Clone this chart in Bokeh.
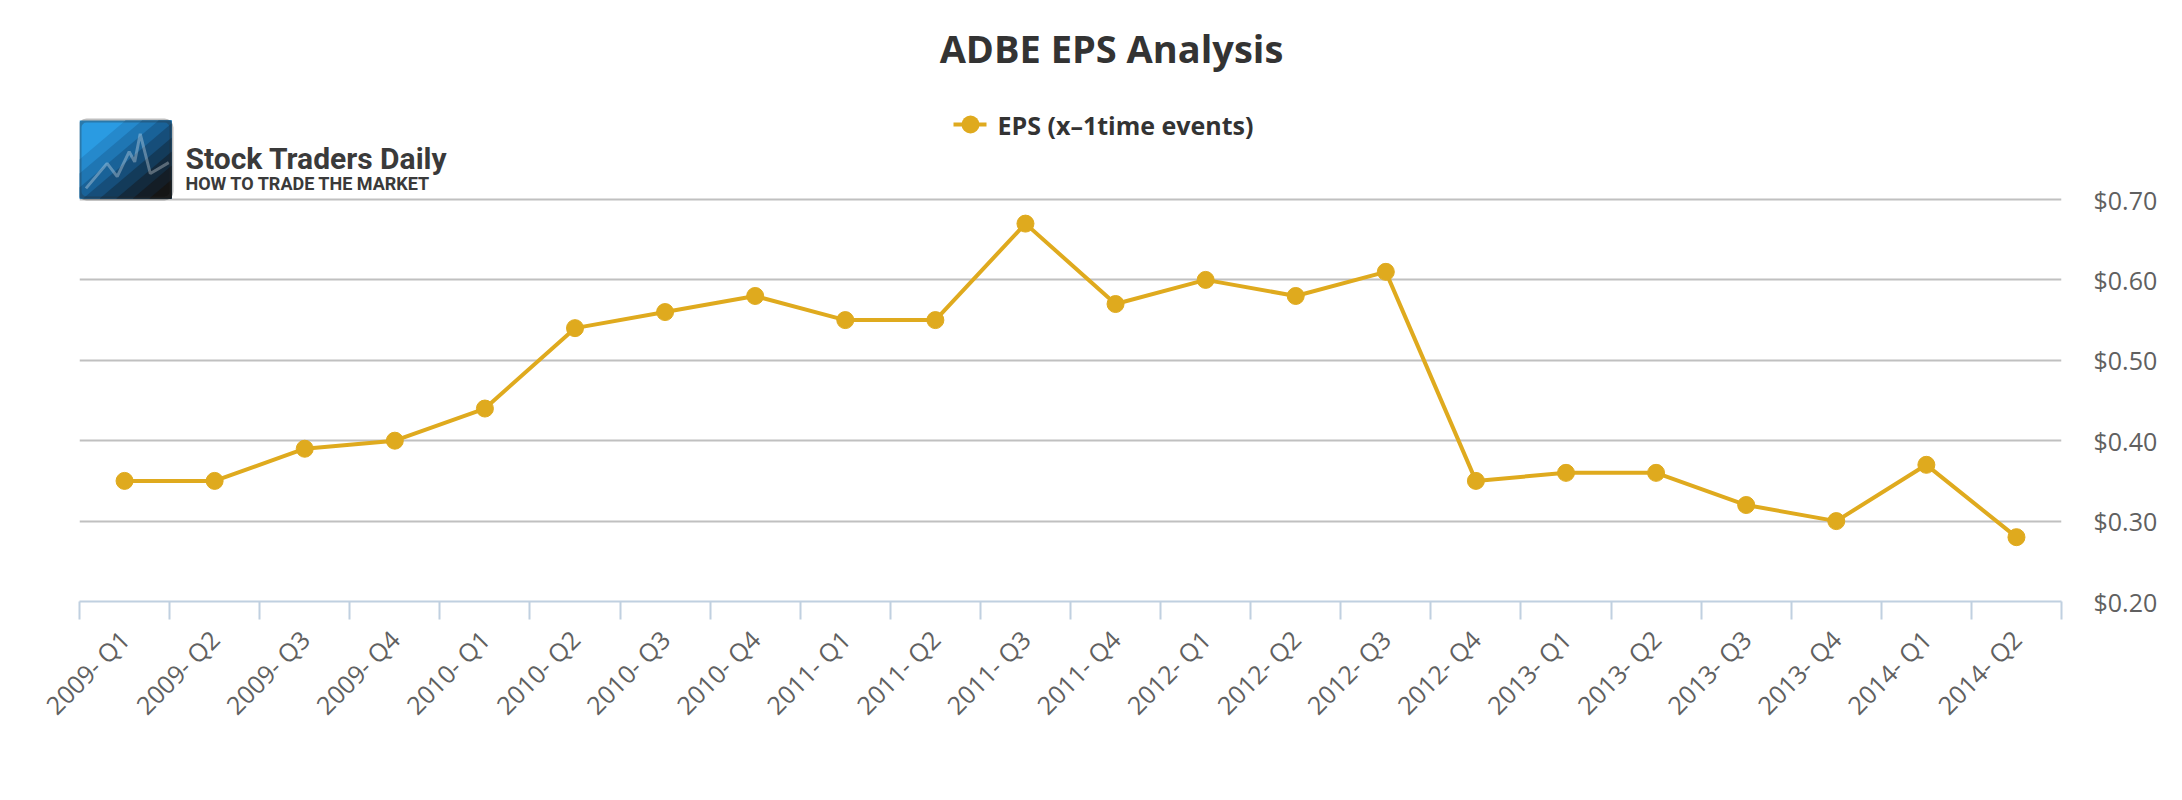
from bokeh.plotting import figure
from bokeh.embed import file_html
from bokeh.resources import INLINE
from bokeh.models import (ColumnDataSource, Range1d, FixedTicker, NumeralTickFormatter,
                          Label, BoxAnnotation, PolyAnnotation)
from math import pi

quarters = ["2009- Q1", "2009- Q2", "2009- Q3", "2009- Q4",
            "2010- Q1", "2010- Q2", "2010- Q3", "2010- Q4",
            "2011- Q1", "2011- Q2", "2011- Q3", "2011- Q4",
            "2012- Q1", "2012- Q2", "2012- Q3", "2012- Q4",
            "2013- Q1", "2013- Q2", "2013- Q3", "2013- Q4",
            "2014- Q1", "2014- Q2"]
eps = [0.35, 0.35, 0.39, 0.40,
       0.44, 0.54, 0.56, 0.58,
       0.55, 0.55, 0.67, 0.57,
       0.60, 0.58, 0.61, 0.35,
       0.36, 0.36, 0.32, 0.30,
       0.37, 0.28]
y_ticks = [0.2, 0.3, 0.4, 0.5, 0.6, 0.7]

series_name = "EPS (x\u20131time events)"
chart_title = "ADBE EPS Analysis"
gold = "#DFAA1E"

# layout (px): frame reaches the canvas top so title/legend/logo sit inside it
W, H = 2166, 784
left_b, right_b, frame_h = 79, 105, 601
bottom_b = H - frame_h
px_per_unit = 804.0
y_top = y_ticks[0] + frame_h / px_per_unit

n = len(quarters)
x = list(range(n))
source = ColumnDataSource(data=dict(x=x, eps=eps))

p = figure(width=W, height=H, output_backend="svg", toolbar_location=None,
           x_range=Range1d(-0.5, n - 0.5), y_range=Range1d(y_ticks[0], y_top),
           y_axis_location="right", min_border_left=left_b, min_border_right=right_b,
           min_border_top=0, min_border_bottom=bottom_b)
p.outline_line_color = None
p.background_fill_color = "white"
p.border_fill_color = "white"

p.line("x", "eps", source=source, line_color=gold, line_width=4)
p.scatter("x", "eps", source=source, size=17, fill_color=gold, line_color=gold)

# x axis: labels at quarter centres, tick marks between quarters
xa = p.xaxis[0]
xa.ticker = FixedTicker(ticks=x, minor_ticks=[i - 0.5 for i in range(n + 1)])
xa.major_label_overrides = {i: q for i, q in zip(x, quarters)}
xa.major_label_orientation = pi / 4
xa.major_label_text_font = "Open Sans"
xa.major_label_text_font_size = "25px"
xa.major_label_text_color = "#606060"
xa.major_label_standoff = 15
xa.axis_line_color = "#C0D0E0"
xa.axis_line_width = 2
xa.major_tick_line_color = None
xa.major_tick_out = 0
xa.major_tick_in = 0
xa.minor_tick_line_color = "#C0D0E0"
xa.minor_tick_line_width = 2
xa.minor_tick_out = 18
xa.minor_tick_in = 0

ya = p.yaxis[0]
ya.ticker = FixedTicker(ticks=y_ticks)
ya.formatter = NumeralTickFormatter(format="$0.00")
ya.axis_line_color = None
ya.major_tick_line_color = None
ya.minor_tick_line_color = None
ya.major_tick_out = 0
ya.major_label_standoff = 32
ya.major_label_text_font = "Open Sans"
ya.major_label_text_font_size = "25px"
ya.major_label_text_color = "#606060"

p.xgrid.visible = False
p.ygrid.ticker = FixedTicker(ticks=y_ticks[1:])
p.ygrid.grid_line_color = "#C0C0C0"
p.ygrid.grid_line_width = 2


def screen_box(l, r, t, b, **kw):
    return BoxAnnotation(left=l, right=r, top=t, bottom=b,
                         left_units="screen", right_units="screen",
                         top_units="screen", bottom_units="screen", **kw)


# title
p.add_layout(Label(x=1032, y=frame_h - 47, x_units="screen", y_units="screen",
                   text=chart_title, text_font="Open Sans", text_font_size="38px",
                   text_font_style="bold", text_color="#333333",
                   text_align="center", text_baseline="middle"))

# legend: line with a dot, then the series name
leg_x, leg_y = 874, frame_h - 124
p.add_layout(screen_box(leg_x, leg_x + 33, leg_y + 2, leg_y - 2,
                        fill_color=gold, fill_alpha=1, line_color=None))
p.add_layout(screen_box(leg_x + 8, leg_x + 26, leg_y + 9, leg_y - 9,
                        fill_color=gold, fill_alpha=1, line_color=None, border_radius=9))
p.add_layout(Label(x=leg_x + 44, y=leg_y, x_units="screen", y_units="screen",
                   text=series_name, text_font="Open Sans", text_font_size="25px",
                   text_font_style="bold", text_color="#333333", text_baseline="middle"))

# logo: box with diagonal blue-to-black shading and a white zigzag
LW, LH = 92, 78
lx, ltop = 0, frame_h - 120


def clip_box(c):
    pts = [(0, 0), (LW, 0), (LW, LH), (0, LH)]
    f = lambda q: q[0] / LW + q[1] / LH - 2 * c
    out = []
    for i in range(4):
        a, b = pts[i], pts[(i + 1) % 4]
        fa, fb = f(a), f(b)
        if fa >= 0:
            out.append(a)
        if (fa >= 0) != (fb >= 0):
            s = fa / (fa - fb)
            out.append((a[0] + s * (b[0] - a[0]), a[1] + s * (b[1] - a[1])))
    return out


p.add_layout(screen_box(lx, lx + LW, ltop, ltop - LH, fill_color="#2a9be2",
                        fill_alpha=1, line_color=None))
band_colors = ["#2589cc", "#1f76b3", "#196298", "#164e7a", "#133b5a", "#132a3d", "#141d26", "#151515"]
for k, col in enumerate(band_colors):
    poly = clip_box(0.25 + k * 0.09)
    if len(poly) < 3:
        continue
    p.add_layout(PolyAnnotation(xs=[lx + u for u, v in poly], ys=[ltop - v for u, v in poly],
                                xs_units="screen", ys_units="screen",
                                fill_color=col, fill_alpha=1, line_color=None))
zig = [(0.07, 0.87), (0.30, 0.55), (0.41, 0.72), (0.54, 0.40), (0.60, 0.53),
       (0.66, 0.17), (0.77, 0.68), (0.97, 0.54)]
zig_path = zig + zig[::-1]
p.add_layout(PolyAnnotation(xs=[lx + fx * LW for fx, fy in zig_path],
                            ys=[ltop - fy * LH for fx, fy in zig_path],
                            xs_units="screen", ys_units="screen",
                            fill_alpha=0, line_color="white", line_width=3))
p.add_layout(screen_box(lx, lx + LW, ltop, ltop - LH, fill_alpha=0,
                        line_color="#2b2b2b", line_width=4, border_radius=7))
p.add_layout(Label(x=106, y=frame_h - 158, x_units="screen", y_units="screen",
                   text="Stock Traders Daily", text_font="Roboto",
                   text_font_size="30px", text_font_style="bold", text_color="#3a3a3a",
                   text_baseline="alphabetic"))
p.add_layout(Label(x=106, y=frame_h - 183, x_units="screen", y_units="screen",
                   text="HOW TO TRADE THE MARKET", text_font="Roboto",
                   text_font_size="18px", text_font_style="bold", text_color="#3a3a3a",
                   text_baseline="alphabetic"))

open("out.html", "w").write(file_html(p, INLINE))
